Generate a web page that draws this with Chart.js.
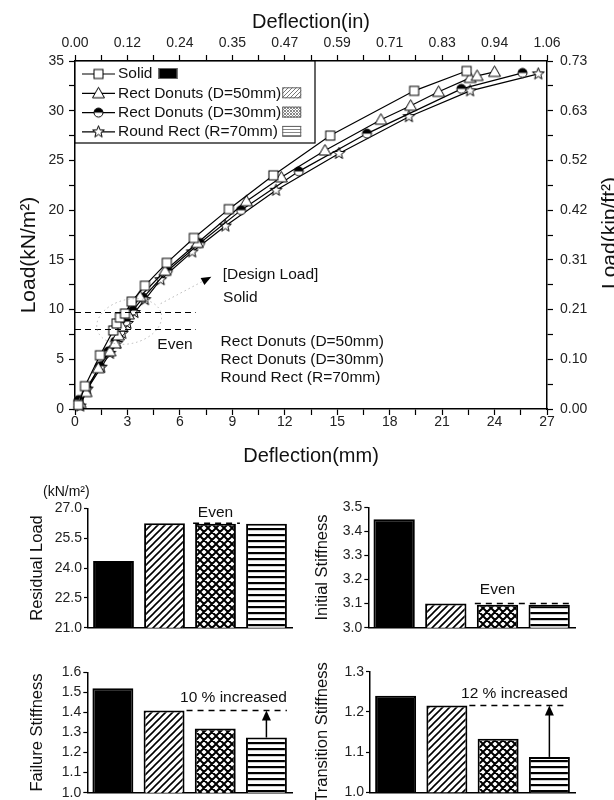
<!DOCTYPE html>
<html>
<head>
<meta charset="utf-8">
<script src="https://cdn.jsdelivr.net/npm/chart.js@4.4.1/dist/chart.umd.min.js"></script>
<style>
  html, body { margin: 0; padding: 0; background: #fff; }
  #wrap { position: relative; width: 614px; height: 800px; overflow: hidden; }
  canvas { position: absolute; }
</style>
</head>
<body>
<div id="wrap">
  <canvas id="loadChart" width="614" height="470" style="left:0;top:0"></canvas>
  <canvas id="residualChart" width="307" height="170" style="left:0;top:480px"></canvas>
  <canvas id="initialChart" width="307" height="170" style="left:307px;top:480px"></canvas>
  <canvas id="failureChart" width="307" height="170" style="left:0;top:640px"></canvas>
  <canvas id="transitionChart" width="307" height="170" style="left:307px;top:640px"></canvas>
</div>
<script>
// load-deflection curves (deflection in mm, load in kN/m²)
const solidDefl = [0.19, 0.57, 1.43, 2.19, 2.38, 2.57, 2.86, 3.24, 4.0, 5.25, 6.8, 8.8, 11.35, 14.6, 19.4, 22.4];
const solidLoad = [0.4, 2.3, 5.4, 7.9, 8.6, 9.2, 9.6, 10.8, 12.4, 14.7, 17.2, 20.1, 23.5, 27.5, 32.0, 34.0];
const donut50Defl = [0.29, 0.63, 1.33, 2.0, 2.29, 2.48, 2.67, 3.05, 3.72, 5.15, 7.0, 9.8, 11.8, 14.3, 17.5, 19.2, 20.8, 22.6, 23.0, 24.0];
const donut50Load = [0.6, 1.7, 4.1, 5.8, 6.6, 7.4, 8.3, 9.5, 11.3, 13.9, 16.7, 20.9, 23.3, 26.0, 29.1, 30.5, 31.9, 33.3, 33.5, 33.9];
const donut30Defl = [0.2, 0.67, 1.43, 1.9, 2.3, 2.6, 2.9, 3.3, 3.9, 5.3, 7.15, 9.5, 12.8, 16.7, 22.1, 25.6];
const donut30Load = [0.9, 2.1, 4.3, 5.8, 6.8, 7.8, 8.8, 9.9, 11.2, 13.9, 16.7, 20.0, 23.9, 27.7, 32.2, 33.8];
const roundDefl = [0.3, 0.7, 1.5, 2.0, 2.4, 2.7, 3.0, 3.4, 4.0, 4.9, 6.7, 8.6, 11.5, 15.1, 19.1, 22.6, 26.5];
const roundLoad = [0.3, 2.0, 4.2, 5.6, 6.6, 7.6, 8.6, 9.7, 11.0, 13.0, 15.8, 18.4, 22.0, 25.7, 29.4, 32.0, 33.7];

const inchTicks = ['0.00', '0.12', '0.24', '0.35', '0.47', '0.59', '0.71', '0.83', '0.94', '1.06'];
const kipTicks = ['0.00', '0.10', '0.21', '0.31', '0.42', '0.52', '0.63', '0.73'];
const designLoad = 9.75;
const evenLoad = 8.0;

// summary bars
const specimens = ['Solid', 'Rect Donuts (D=50mm)', 'Rect Donuts (D=30mm)', 'Round Rect (R=70mm)'];
const residualLoad = [24.35, 26.25, 26.22, 26.22];
const initialStiffness = [3.45, 3.10, 3.095, 3.095];
const failureStiffness = [1.52, 1.41, 1.32, 1.275];
const transitionStiffness = [1.24, 1.216, 1.133, 1.088];
const residualTicks = [21.0, 22.5, 24.0, 25.5, 27.0];
const initialTicks = [3.0, 3.1, 3.2, 3.3, 3.4, 3.5];
const failureTicks = [1.0, 1.1, 1.2, 1.3, 1.4, 1.5, 1.6];
const transitionTicks = [1.0, 1.1, 1.2, 1.3];

const FONT = "'Liberation Sans', Arial, sans-serif";
Chart.defaults.font.family = FONT;
Chart.defaults.color = '#222';
Chart.defaults.animation = false;

// ---- hatch fills ----
function tile(kind, size, lw, color) {
  const c = document.createElement('canvas');
  c.width = size; c.height = size;
  const g = c.getContext('2d');
  g.fillStyle = '#fff';
  g.fillRect(0, 0, size, size);
  g.strokeStyle = color;
  g.fillStyle = color;
  g.lineWidth = lw;
  g.beginPath();
  if (kind === 'diag' || kind === 'cross') {
    g.moveTo(-1, 1); g.lineTo(1, -1);
    g.moveTo(0, size); g.lineTo(size, 0);
    g.moveTo(size - 1, size + 1); g.lineTo(size + 1, size - 1);
  }
  if (kind === 'cross') {
    g.moveTo(0, 0); g.lineTo(size, size);
    g.moveTo(-1, size - 1); g.lineTo(1, size + 1);
    g.moveTo(size - 1, -1); g.lineTo(size + 1, 1);
  }
  g.stroke();
  if (kind === 'stripe') g.fillRect(0, 0, size, lw);
  return g.createPattern(c, 'repeat');
}
const barFills = ['#000', tile('diag', 7, 1.6, '#000'), tile('cross', 8, 2, '#000'), tile('stripe', 6, 2.2, '#000')];
const swatchFills = ['#000', tile('diag', 4, 1, '#777'), tile('cross', 3, 1, '#888'), tile('stripe', 3, 1, '#888')];

// ---- point markers ----
function marker(draw) {
  const c = document.createElement('canvas');
  c.width = 15; c.height = 15;
  const g = c.getContext('2d');
  g.translate(7.5, 7.5);
  g.lineWidth = 1;
  g.strokeStyle = '#000';
  g.fillStyle = '#fff';
  draw(g);
  return c;
}
const squareMark = marker(g => { g.fillRect(-4.5, -4.5, 9, 9); g.strokeRect(-4.5, -4.5, 9, 9); });
const triangleMark = marker(g => {
  g.beginPath(); g.moveTo(0, -6); g.lineTo(6, 4.5); g.lineTo(-6, 4.5); g.closePath();
  g.fill(); g.stroke();
});
const halfCircleMark = marker(g => {
  g.beginPath(); g.arc(0, 0, 4.5, 0, Math.PI * 2); g.fill();
  g.fillStyle = '#000';
  g.beginPath(); g.arc(0, 0, 4.5, Math.PI, 0); g.closePath(); g.fill();
  g.beginPath(); g.arc(0, 0, 4.5, 0, Math.PI * 2); g.stroke();
});
const starMark = marker(g => {
  g.beginPath();
  for (let i = 0; i < 10; i++) {
    const r = i % 2 ? 2.6 : 6.2;
    const a = -Math.PI / 2 + i * Math.PI / 5;
    g.lineTo(r * Math.cos(a), r * Math.sin(a));
  }
  g.closePath(); g.fill(); g.stroke();
});
const marks = [squareMark, triangleMark, halfCircleMark, starMark];

const isStep = (v, step) => Math.abs(v / step - Math.round(v / step)) < 1e-6;

function curve(i, defl, load) {
  return {
    label: specimens[i],
    data: defl.map((d, k) => ({ x: d, y: load[k] })),
    borderColor: '#000',
    borderWidth: 1.2,
    pointStyle: marks[i],
    pointRadius: 5,
    tension: 0,
    clip: false
  };
}

const loadDecor = {
  id: 'loadDecor',
  afterDatasetsDraw(chart) {
    const { ctx, scales: { x, y } } = chart;
    ctx.save();
    // dashed load levels
    ctx.strokeStyle = '#000';
    ctx.lineWidth = 1;
    ctx.setLineDash([6, 4]);
    [designLoad, evenLoad].forEach(v => {
      const py = Math.round(y.getPixelForValue(v)) + 0.5;
      ctx.beginPath();
      ctx.moveTo(x.getPixelForValue(0), py);
      ctx.lineTo(x.getPixelForValue(6.9), py);
      ctx.stroke();
    });
    // dotted ring round the design-load points, pointer to its label
    ctx.strokeStyle = '#b8b8b8';
    ctx.setLineDash([1.5, 3]);
    ctx.beginPath();
    ctx.ellipse(x.getPixelForValue(3.1), y.getPixelForValue(8.8), 33, 22, -0.25, 0, Math.PI * 2);
    ctx.stroke();
    const ax0 = x.getPixelForValue(4.9), ay0 = y.getPixelForValue(10.6);
    const ax1 = x.getPixelForValue(7.8), ay1 = y.getPixelForValue(13.3);
    ctx.beginPath(); ctx.moveTo(ax0, ay0); ctx.lineTo(ax1, ay1); ctx.stroke();
    const ang = Math.atan2(ay1 - ay0, ax1 - ax0);
    ctx.setLineDash([]);
    ctx.fillStyle = '#000';
    ctx.beginPath();
    ctx.moveTo(ax1, ay1);
    ctx.lineTo(ax1 - 10 * Math.cos(ang) + 4 * Math.sin(ang), ay1 - 10 * Math.sin(ang) - 4 * Math.cos(ang));
    ctx.lineTo(ax1 - 10 * Math.cos(ang) - 4 * Math.sin(ang), ay1 - 10 * Math.sin(ang) + 4 * Math.cos(ang));
    ctx.closePath();
    ctx.fill();
    // notes
    ctx.font = `15.5px ${FONT}`;
    ctx.textBaseline = 'middle';
    ctx.fillStyle = '#111';
    ctx.textAlign = 'left';
    ctx.fillText('[Design Load]', x.getPixelForValue(8.45), y.getPixelForValue(13.5));
    ctx.fillText(specimens[0], x.getPixelForValue(8.47), y.getPixelForValue(11.2));
    [6.77, 4.93, 3.12].forEach((v, k) => ctx.fillText(specimens[k + 1], x.getPixelForValue(8.33), y.getPixelForValue(v)));
    ctx.textAlign = 'center';
    ctx.fillText('Even', x.getPixelForValue(5.72), y.getPixelForValue(6.44));
    ctx.restore();
  },
  afterDraw(chart) {
    const { ctx, chartArea: area } = chart;
    ctx.save();
    // legend box
    const bx = area.left, by = area.top, bw = 240, bh = 82;
    ctx.fillStyle = '#fff';
    ctx.fillRect(bx, by, bw, bh);
    ctx.strokeStyle = '#000';
    ctx.lineWidth = 1.2;
    ctx.strokeRect(bx, by, bw, bh);
    ctx.font = `15.5px ${FONT}`;
    ctx.textBaseline = 'middle';
    ctx.textAlign = 'left';
    const textX = bx + 43;
    const wide = Math.max(...specimens.slice(1).map(s => ctx.measureText(s).width));
    specimens.forEach((s, i) => {
      const ry = by + 13 + i * 19.3;
      ctx.strokeStyle = '#000';
      ctx.lineWidth = 1.2;
      ctx.beginPath(); ctx.moveTo(bx + 7, ry); ctx.lineTo(bx + 40, ry); ctx.stroke();
      ctx.drawImage(marks[i], bx + 23.5 - 7.5, ry - 7.5);
      ctx.fillStyle = '#111';
      ctx.fillText(s, textX, ry);
      const sx = i === 0 ? textX + ctx.measureText(s).width + 6 : textX + wide + 1;
      ctx.fillStyle = swatchFills[i];
      ctx.fillRect(sx, ry - 6, 19, 11);
      ctx.strokeStyle = '#666';
      ctx.lineWidth = 1;
      ctx.strokeRect(sx + 0.5, ry - 5.5, 18, 10);
    });
    // axis titles on both load axes
    ctx.fillStyle = '#111';
    ctx.font = `21px ${FONT}`;
    ctx.textAlign = 'center';
    ctx.textBaseline = 'alphabetic';
    [['Load(kN/m²)', 35, 255], ['Load(kip/ft²)', 616, 233]].forEach(([t, tx, ty]) => {
      ctx.save();
      ctx.translate(tx, ty);
      ctx.rotate(-Math.PI / 2);
      ctx.fillText(t, 0, 0);
      ctx.restore();
    });
    ctx.restore();
  }
};

function frameAxis(position, extra) {
  return Object.assign({
    type: 'linear',
    position,
    border: { color: '#000', width: 1.5 },
    grid: { drawOnChartArea: false, drawTicks: true, tickLength: 6, tickColor: '#000', tickWidth: 1.2 },
  }, extra);
}

new Chart(document.getElementById('loadChart'), {
  type: 'line',
  data: {
    datasets: [
      curve(0, solidDefl, solidLoad),
      curve(1, donut50Defl, donut50Load),
      curve(2, donut30Defl, donut30Load),
      curve(3, roundDefl, roundLoad)
    ]
  },
  options: {
    responsive: false,
    layout: { padding: 0 },
    plugins: { legend: { display: false }, tooltip: { enabled: false } },
    scales: {
      x: frameAxis('bottom', {
        min: 0, max: 27,
        ticks: { stepSize: 1.5, autoSkip: false, maxRotation: 0, padding: -1, font: { size: 14 },
                 callback: v => isStep(v, 3) ? String(v) : '' },
        title: { display: true, text: 'Deflection(mm)', color: '#111', font: { size: 20 }, padding: { top: 0, bottom: 2 } },
        afterFit: s => { s.height = 61; }
      }),
      x2: frameAxis('top', {
        min: 0, max: 27,
        ticks: { stepSize: 1.5, autoSkip: false, maxRotation: 0, padding: 3, font: { size: 14 },
                 callback: v => isStep(v, 3) ? inchTicks[Math.round(v / 3)] : '' },
        title: { display: true, text: 'Deflection(in)', color: '#111', font: { size: 20 }, padding: { top: 10, bottom: 0 } },
        afterFit: s => { s.height = 61; }
      }),
      y: frameAxis('left', {
        min: 0, max: 35,
        ticks: { stepSize: 2.5, autoSkip: false, padding: 5, font: { size: 14 },
                 callback: v => isStep(v, 5) ? String(v) : '' },
        afterFit: s => { s.width = 75; }
      }),
      y2: frameAxis('right', {
        min: 0, max: 35,
        ticks: { stepSize: 2.5, autoSkip: false, padding: 7, font: { size: 14 },
                 callback: v => isStep(v, 5) ? kipTicks[Math.round(v / 5)] : '' },
        afterFit: s => { s.width = 67; }
      })
    }
  },
  plugins: [loadDecor]
});

// ---- bar panels ----
function dashAcross(ctx, x0, x1, py) {
  ctx.save();
  ctx.strokeStyle = '#000';
  ctx.lineWidth = 1.5;
  ctx.setLineDash([6, 5]);
  ctx.beginPath(); ctx.moveTo(x0, py); ctx.lineTo(x1, py); ctx.stroke();
  ctx.restore();
}
function arrowUp(ctx, px, yFrom, yTo) {
  ctx.save();
  ctx.strokeStyle = '#000';
  ctx.fillStyle = '#000';
  ctx.lineWidth = 1.5;
  ctx.beginPath(); ctx.moveTo(px, yFrom); ctx.lineTo(px, yTo + 8); ctx.stroke();
  ctx.beginPath(); ctx.moveTo(px, yTo); ctx.lineTo(px - 4.5, yTo + 10); ctx.lineTo(px + 4.5, yTo + 10); ctx.closePath(); ctx.fill();
  ctx.restore();
}
function note(ctx, text, px, py, align) {
  ctx.save();
  ctx.font = `15.5px ${FONT}`;
  ctx.fillStyle = '#111';
  ctx.textAlign = align;
  ctx.textBaseline = 'middle';
  ctx.fillText(text, px, py);
  ctx.restore();
}
const bars = chart => chart.getDatasetMeta(0).data;

function barPanel(id, values, ticks, title, cfg, decorate) {
  return new Chart(document.getElementById(id), {
    type: 'bar',
    data: {
      labels: specimens,
      datasets: [{
        data: values,
        backgroundColor: barFills,
        borderColor: '#000',
        borderWidth: 2,
        barPercentage: 0.8,
        categoryPercentage: 1
      }]
    },
    options: {
      responsive: false,
      layout: { padding: { top: cfg.top, right: cfg.right, left: 0, bottom: 0 } },
      plugins: { legend: { display: false }, tooltip: { enabled: false } },
      scales: {
        x: {
          grid: { display: false },
          ticks: { display: false },
          border: { color: '#000', width: 1.5 },
          afterFit: s => { s.height = 170 - cfg.bottom; }
        },
        y: {
          min: ticks[0],
          max: ticks[ticks.length - 1],
          afterBuildTicks: s => { s.ticks = ticks.map(value => ({ value })); },
          ticks: { padding: 2, font: { size: 14 }, callback: v => v.toFixed(1) },
          grid: { drawOnChartArea: false, tickLength: 4, tickColor: '#000', tickWidth: 1.2 },
          border: { color: '#000', width: 1.5 },
          title: { display: true, text: title, color: '#111', font: { size: 16.5 }, padding: { top: cfg.titlePad, bottom: 0 } },
          afterFit: s => { s.width = cfg.axis; }
        }
      }
    },
    plugins: [{ id: 'panelNotes', afterDatasetsDraw: decorate }]
  });
}

barPanel('residualChart', residualLoad, residualTicks, 'Residual Load',
  { top: 28.3, bottom: 147.7, right: 15, axis: 88, titlePad: 28 },
  chart => {
    const { ctx, scales: { y } } = chart;
    const b = bars(chart)[2];
    const py = y.getPixelForValue(residualLoad[1]);
    dashAcross(ctx, b.x - b.width / 2 - 2, b.x + b.width / 2 + 4, py);
    note(ctx, 'Even', b.x, py - 11, 'center');
    ctx.save();
    ctx.font = `14px ${FONT}`;
    ctx.fillStyle = '#111';
    ctx.textBaseline = 'middle';
    ctx.fillText('(kN/m²)', 43, 12);
    ctx.restore();
  });

barPanel('initialChart', initialStiffness, initialTicks, 'Initial Stiffness',
  { top: 27.3, bottom: 147.7, right: 39, axis: 61.3, titlePad: 6 },
  chart => {
    const { ctx, scales: { y } } = chart;
    const [, , b3, b4] = bars(chart);
    const py = y.getPixelForValue(initialStiffness[1]);
    dashAcross(ctx, b3.x - b3.width / 2 - 2, b4.x + b4.width / 2 + 2, py);
    note(ctx, 'Even', b3.x, py - 14, 'center');
  });

barPanel('failureChart', failureStiffness, failureTicks, 'Failure Stiffness',
  { top: 32.3, bottom: 152.7, right: 15, axis: 87.3, titlePad: 28 },
  chart => {
    const { ctx, scales: { y } } = chart;
    const [, b2, , b4] = bars(chart);
    const py = y.getPixelForValue(failureStiffness[1]);
    dashAcross(ctx, b2.x + b2.width / 2 + 2, b4.x + b4.width / 2, py);
    arrowUp(ctx, b4.x, y.getPixelForValue(failureStiffness[3]), py);
    note(ctx, '10 % increased', b4.x + b4.width / 2, py - 13, 'right');
  });

barPanel('transitionChart', transitionStiffness, transitionTicks, 'Transition Stiffness',
  { top: 31.7, bottom: 152.3, right: 39, axis: 63, titlePad: 6 },
  chart => {
    const { ctx, scales: { y } } = chart;
    const [, b2, , b4] = bars(chart);
    const py = y.getPixelForValue(transitionStiffness[1]);
    dashAcross(ctx, b2.x + b2.width / 2 + 2, b4.x + b4.width / 2 - 2, py);
    arrowUp(ctx, b4.x, y.getPixelForValue(transitionStiffness[3]), py);
    note(ctx, '12 % increased', b4.x + b4.width / 2 - 2, py - 12, 'right');
  });
</script>
</body>
</html>
